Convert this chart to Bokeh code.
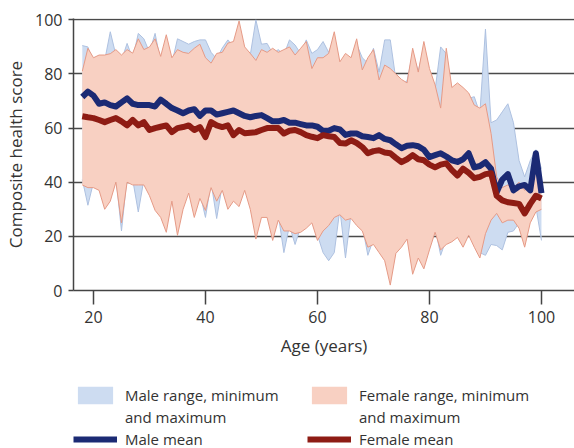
from bokeh.plotting import figure
from bokeh.models import Legend, LegendItem, FixedTicker, ColumnDataSource
from bokeh.layouts import column
from bokeh.embed import file_html
from bokeh.resources import INLINE

ages = list(range(18, 101))

male_mean = [71.5, 73.5, 72, 69, 69.5, 68.5, 68, 69.5, 71, 69,
             68.5, 68.5, 68.5, 68, 70.5, 69, 67.4, 66.5, 65.5, 66.5,
             67, 64.5, 66.5, 66.5, 65, 65.5, 66, 66.5, 65.5, 64.5,
             64, 64.5, 64.8, 63.7, 62.5, 62.5, 63, 62, 62, 61.5,
             61, 61, 60.5, 59, 59, 60, 59.5, 57.5, 58, 58,
             57, 56.7, 56.3, 57.4, 56, 55.5, 54, 52.6, 53.5, 53.7,
             53.3, 52, 49.3, 50, 50.7, 49.5, 48.1, 47.5, 48.5, 50.7,
             45.5, 46, 47.4, 45, 36.3, 41, 43, 37, 38.5, 39,
             37, 50.7, 36]

female_mean = [64.4, 64, 63.7, 63, 62.2, 63, 63.7, 62.5, 61, 63,
               61, 62.2, 59.3, 60, 60.5, 61, 58.5, 60, 60.4, 61,
               59.3, 60.4, 56.7, 62.2, 61, 60.4, 61, 57.4, 59.3, 58.1,
               58.3, 58.5, 59.3, 60, 60, 60, 58, 59, 59.3, 58.5,
               57.4, 56.8, 56.3, 57.4, 57, 56.7, 54.5, 54.3, 55.5, 54.5,
               53, 50.7, 51.5, 51.8, 51, 50.7, 49, 47.4, 48.5, 50,
               48.5, 48.1, 46.5, 45.5, 46.5, 47, 44.5, 42.5, 45, 43.5,
               41.5, 42, 43, 43.3, 35, 33.3, 32.6, 32.3, 32, 28.5,
               32, 35, 34]

female_max = [81, 89.5, 86, 87, 87, 87.5, 89, 87, 89, 87.7,
              93, 89, 90, 93, 86.5, 94.5, 86, 89, 88, 87.6,
              89.5, 91, 86, 84, 87.6, 88, 91.4, 92, 99.6, 90,
              87.6, 85, 89, 88, 89.5, 88, 89, 90, 87, 89.5,
              92, 82, 86, 86, 87.6, 95.6, 84.5, 87.6, 86, 93,
              81.5, 86, 89, 77.8, 83.3, 82, 80, 78, 76.7, 89.5,
              80.7, 92, 82, 76, 67.4, 89.5, 75, 76.7, 75, 73,
              68.5, 67.4, 69, 58, 42, 38, 39, 38, 40, 37,
              40, 44, 42]

male_max = [90.5, 90, 84, 85, 85, 95.6, 87, 85, 91.3, 85.7,
            95, 93, 88, 95, 84.5, 89.7, 84, 93, 92, 91,
            92, 92.6, 92.6, 88, 85.6, 89.6, 92.6, 90, 97.6, 88,
            87, 100, 91, 91.3, 87.5, 89, 87, 92.6, 90.7, 87.5,
            92.6, 87.6, 89, 92, 88, 93.6, 82.5, 85.6, 84, 91,
            86, 84, 89.5, 80.7, 92.6, 92.6, 78, 76, 77.5, 87.5,
            81, 90, 80, 74, 90, 87.5, 73, 74.7, 73, 71,
            71.6, 65.4, 96.6, 62, 63, 66, 69, 62, 48, 42,
            48, 52, 45]

female_min = [39, 38, 38, 37, 30, 33, 40, 25, 40, 39,
              39, 39, 35, 29.6, 27, 21.5, 33, 20.4, 30, 36,
              27, 34, 29.6, 38, 33, 37, 30, 33, 31, 37,
              30, 19, 27, 27, 18.5, 26, 22, 22, 21, 21.5,
              23, 25, 18.5, 22, 24, 27, 28, 26, 26.6, 24,
              22, 16, 17, 14, 11, 2, 13.7, 16, 19, 6,
              12, 8, 15, 21.5, 15, 17, 18, 19.6, 16, 20.4,
              16, 12, 21, 26, 28.5, 25, 26, 26, 23, 16,
              25, 29, 30]

male_min = [41, 31.5, 40, 39, 32, 35, 42, 22, 42, 41,
            29, 41, 37, 31.6, 29, 23.5, 35, 22.4, 32, 38,
            29, 36, 27, 40, 26.6, 39, 32, 35, 33, 39,
            32, 21, 29, 29, 20.5, 28, 14, 24, 17, 23.5,
            25, 27, 20.5, 14, 11, 14, 30, 12, 28.6, 26,
            24, 13, 19, 16, 13, 4, 15.7, 18, 21, 8,
            14, 10, 17, 23.5, 13, 19, 20, 21.6, 18, 22.4,
            18, 14, 13, 17, 16.6, 15, 21.5, 22, 25, 18,
            27, 31, 18.5]

x_ticks = [20, 40, 60, 80, 100]
y_ticks = [0, 20, 40, 60, 80, 100]
grid_ticks = [20, 40, 60, 80, 100]

legend_male = ["Male range, minimum", "and maximum", "Male mean"]
legend_female = ["Female range, minimum", "and maximum", "Female mean"]

src = ColumnDataSource(dict(age=ages, mm=male_mean, fm=female_mean,
                            fx=female_max, mx=male_max, fn=female_min, mn=male_min))

FONT = "Open Sans"
TXT = "#333333"

blue_fill = "#cddcf1"
blue_edge = "#aec1e0"
pink_fill = "#f8d0c2"
pink_edge = "#e59a86"
male_col = "#1b2a74"
female_col = "#8e1c14"

p = figure(width=574, height=375, x_range=(16.43, 105.9), y_range=(0, 100.5),
           output_backend="svg", toolbar_location=None,
           min_border_left=73, min_border_right=0, min_border_top=18, min_border_bottom=85)
p.outline_line_color = None

p.varea(x="age", y1="mn", y2="mx", source=src, fill_color=blue_fill)
p.line(x="age", y="mx", source=src, line_color=blue_edge, line_width=1)
p.line(x="age", y="mn", source=src, line_color=blue_edge, line_width=1)
p.varea(x="age", y1="fn", y2="fx", source=src, fill_color=pink_fill)
p.line(x="age", y="fx", source=src, line_color=pink_edge, line_width=1)
p.line(x="age", y="fn", source=src, line_color=pink_edge, line_width=1)

p.line(x="age", y="mm", source=src, line_color=male_col, line_width=6, line_join="round")
p.line(x="age", y="fm", source=src, line_color=female_col, line_width=6, line_join="round")

for ax in (p.xaxis[0], p.yaxis[0]):
    ax.axis_line_color = "#444444"
    ax.axis_line_width = 1.5
    ax.major_tick_line_color = "#444444"
    ax.major_tick_line_width = 1.5
    ax.minor_tick_line_color = None
    ax.major_tick_in = 0
    ax.major_label_text_font = FONT
    ax.major_label_text_font_size = "16px"
    ax.major_label_text_color = TXT
    ax.axis_label_text_font = FONT
    ax.axis_label_text_font_size = "17px"
    ax.axis_label_text_font_style = "normal"
    ax.axis_label_text_color = TXT

p.xaxis.ticker = FixedTicker(ticks=x_ticks)
p.xaxis.major_tick_out = 14
p.xaxis.major_label_standoff = 6
p.xaxis.axis_label = "Age (years)"
p.xaxis.axis_label_standoff = 8

p.yaxis.ticker = FixedTicker(ticks=y_ticks)
p.yaxis.major_tick_out = 5
p.yaxis.major_label_standoff = 6
p.yaxis.axis_label = "Composite health score"
p.yaxis.axis_label_standoff = 5

p.xgrid.grid_line_color = None
p.ygrid.ticker = FixedTicker(ticks=grid_ticks)
p.ygrid.grid_line_color = "#4a4a4a"
p.ygrid.grid_line_width = 1.5

# legend panel: the same data source, drawn outside this panel's visible range,
# so only the legend swatches and labels show
lf = figure(width=574, height=73, x_range=(0, 1), y_range=(0, 1),
            output_backend="svg", toolbar_location=None,
            x_axis_location=None, y_axis_location=None,
            min_border_left=73, min_border_right=0, min_border_top=0, min_border_bottom=0)
lf.outline_line_color = None
lf.grid.grid_line_color = None
sw_male_area = lf.varea(x="age", y1="mn", y2="mx", source=src, fill_color=blue_fill)
sw_male_line = lf.line(x="age", y="mm", source=src, line_color=male_col, line_width=6)
sw_female_area = lf.varea(x="age", y1="fn", y2="fx", source=src, fill_color=pink_fill)
sw_female_line = lf.line(x="age", y="fm", source=src, line_color=female_col, line_width=6)

legend = Legend(items=[LegendItem(label=legend_male[0], renderers=[sw_male_area]),
                       LegendItem(label=legend_male[1], renderers=[]),
                       LegendItem(label=legend_male[2], renderers=[sw_male_line]),
                       LegendItem(label=legend_female[0], renderers=[sw_female_area]),
                       LegendItem(label=legend_female[1], renderers=[]),
                       LegendItem(label=legend_female[2], renderers=[sw_female_line])],
                location=(0, -2), orientation="vertical", ncols=2,
                glyph_width=44, glyph_height=22, label_standoff=8, spacing=0,
                label_width=182, padding=0, margin=0, border_line_color=None,
                background_fill_alpha=0,
                label_text_font=FONT, label_text_font_size="15px",
                label_text_color=TXT)
lf.add_layout(legend)

open("out.html", "w").write(file_html(column(p, lf), INLINE))
